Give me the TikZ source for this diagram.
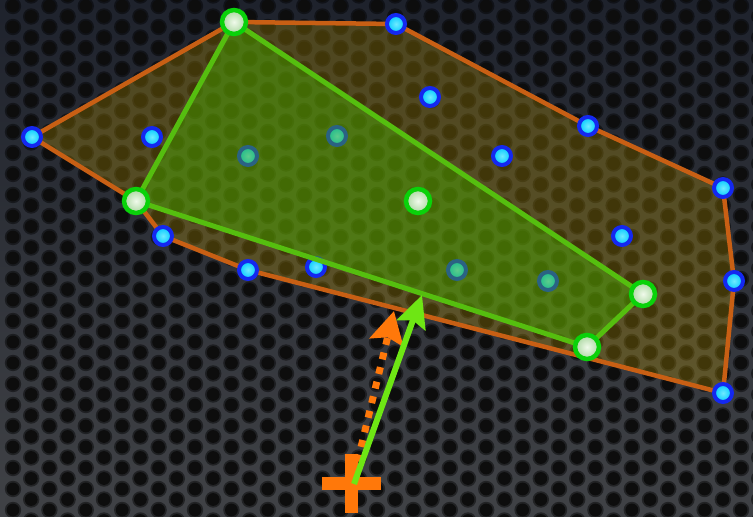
\documentclass[tikz,border=0pt]{standalone}
\usetikzlibrary{arrows.meta}
\definecolor{bgtop}{RGB}{30,34,44}
\definecolor{bgbot}{RGB}{64,66,70}
\definecolor{hullline}{RGB}{200,95,20}
\definecolor{hullfill}{RGB}{185,150,0}
\definecolor{gline}{RGB}{85,190,15}
\definecolor{gfill}{RGB}{70,170,0}
\definecolor{bring}{RGB}{20,40,240}
\definecolor{bcore}{RGB}{0,200,255}
\definecolor{bhigh}{RGB}{110,235,255}
\definecolor{gring}{RGB}{10,210,10}
\definecolor{ghigh}{RGB}{240,250,235}
\definecolor{glow}{RGB}{170,215,160}
\definecolor{plusc}{RGB}{255,120,10}
\definecolor{garrow}{RGB}{110,230,20}
\begin{document}
\begin{tikzpicture}[x=1bp,y=-1bp,
  bpt/.style={circle, minimum size=18bp, inner sep=0pt, draw=bring, line width=4bp, inner color=bhigh, outer color=bcore},
  gpt/.style={circle, minimum size=24bp, inner sep=0pt, draw=gring, line width=4.5bp, inner color=ghigh, outer color=glow},
  hullstroke/.style={draw=hullline, line width=4.5bp, line join=round},
  innerstroke/.style={draw=gline, line width=5bp, line join=round}]
\useasboundingbox (0,0) rectangle (753,517);
\begin{scope}
\clip (0,0) rectangle (753,517);
\fill[top color=bgtop, bottom color=bgbot] (0,0) rectangle (753,517);
\foreach \i in {0,...,41} {
  \foreach \j in {-1,...,24} {
    \pgfmathsetmacro\hx{13+18.2*\i}
    \pgfmathsetmacro\hy{6+21*\j+10.5*mod(\i,2)}
    \fill[black,opacity=.45] (\hx,\hy) circle[radius=8.2bp];
    \fill[black!95] (\hx,\hy) circle[radius=6.4bp];
  }
}
\end{scope}
% hull vertices / points
\coordinate (b1) at (32,137);
\coordinate (g1) at (234,22);
\coordinate (b2) at (396,24);
\coordinate (b3) at (588,126);
\coordinate (b4) at (723,188);
\coordinate (b5) at (734,281);
\coordinate (b6) at (723,393);
\coordinate (b7) at (248,270);
\coordinate (b8) at (163,236);
\coordinate (g2) at (136,201);
\coordinate (g3) at (418,201);
\coordinate (g4) at (643,294);
\coordinate (g5) at (587,347);
\coordinate (i1) at (430,97);
\coordinate (i2) at (152,137);
\coordinate (i3) at (502,156);
\coordinate (i4) at (622,236);
\coordinate (t1) at (248,156);
\coordinate (t2) at (337,136);
\coordinate (t3) at (316,267);
\coordinate (t4) at (457,270);
\coordinate (t5) at (548,281);
% outer hull
\fill[hullfill,opacity=.3] (b1) -- (g1) -- (b2) -- (b3) -- (b4) -- (b5) -- (b6) -- (b7) -- (b8) -- (g2) -- cycle;
\draw[hullstroke] (b1) -- (g1) -- (b2) -- (b3) -- (b4) -- (b5) -- (b6) -- (b7) -- (b8) -- (g2) -- cycle;
% blue points
\foreach \p in {b1,b2,b3,b4,b5,b6,b7,b8,i1,i2,i3,i4,t1,t2,t3,t4,t5}
  \node[bpt] (n\p) at (\p) {};
% inner polygon
\fill[gfill,opacity=.45] (g1) -- (g4) -- (g5) -- (g2) -- cycle;
\draw[innerstroke] (g1) -- (g4) -- (g5) -- (g2) -- cycle;
% green points
\foreach \p in {g1,g2,g3,g4,g5}
  \node[gpt] (n\p) at (\p) {};
% plus
\coordinate (plus) at (351,483);
\fill[plusc] ([xshift=-29.5bp,yshift=-6.5bp]plus) rectangle ([xshift=29.5bp,yshift=6.5bp]plus);
\fill[plusc] ([xshift=-6.5bp,yshift=-30bp]plus) rectangle ([xshift=6.5bp,yshift=29bp]plus);
% arrows
\coordinate (os) at (354,476);
\coordinate (ot) at (394,311);
\coordinate (gs) at (354,484);
\coordinate (gt) at (422,295);
\draw[plusc, line width=7bp, dash pattern=on 7bp off 8bp, -{Stealth[length=32bp,width=34bp,inset=5bp]}] (os) -- (ot);
\draw[garrow, line width=6bp, -{Stealth[length=32bp,width=30bp,inset=5bp]}] (gs) -- (gt);
\end{tikzpicture}
\end{document}
